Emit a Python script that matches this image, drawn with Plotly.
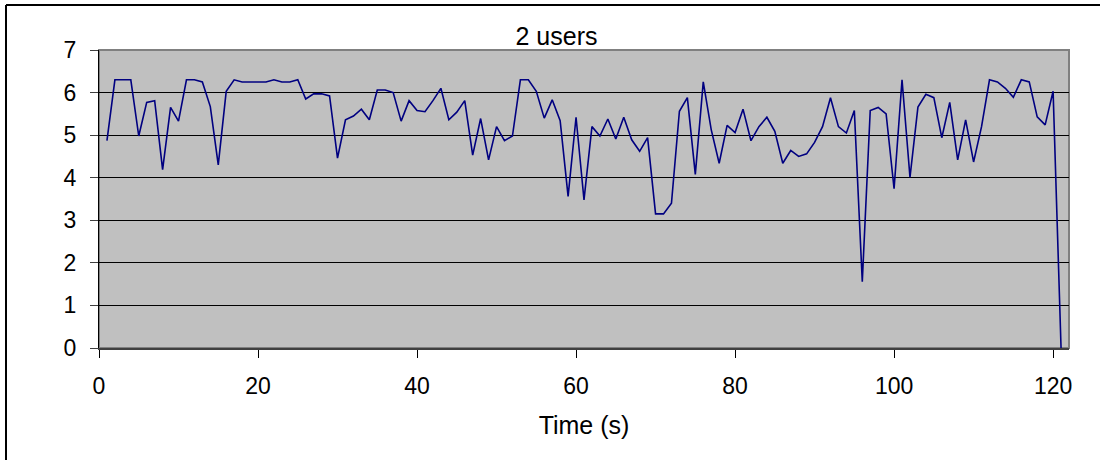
import plotly.graph_objects as go

chart_title = "2 users"
x_title = "Time (s)"

time_s = [
    1, 2, 3, 4, 5, 6, 7, 8, 9, 10,
    11, 12, 13, 14, 15, 16, 17, 18, 19, 20,
    21, 22, 23, 24, 25, 26, 27, 28, 29, 30,
    31, 32, 33, 34, 35, 36, 37, 38, 39, 40,
    41, 42, 43, 44, 45, 46, 47, 48, 49, 50,
    51, 52, 53, 54, 55, 56, 57, 58, 59, 60,
    61, 62, 63, 64, 65, 66, 67, 68, 69, 70,
    71, 72, 73, 74, 75, 76, 77, 78, 79, 80,
    81, 82, 83, 84, 85, 86, 87, 88, 89, 90,
    91, 92, 93, 94, 95, 96, 97, 98, 99, 100,
    101, 102, 103, 104, 105, 106, 107, 108, 109, 110,
    111, 112, 113, 114, 115, 116, 117, 118, 119, 120,
    121,
]

values = [
    4.87, 6.30, 6.30, 6.30, 4.98, 5.77, 5.81, 4.19, 5.65, 5.33,
    6.30, 6.30, 6.25, 5.67, 4.30, 6.03, 6.30, 6.25, 6.25, 6.25,
    6.25, 6.30, 6.25, 6.25, 6.30, 5.85, 5.97, 5.97, 5.92, 4.46,
    5.36, 5.45, 5.61, 5.36, 6.06, 6.06, 6.00, 5.33, 5.81, 5.58,
    5.55, 5.81, 6.10, 5.36, 5.54, 5.81, 4.53, 5.39, 4.42, 5.20,
    4.87, 4.98, 6.30, 6.30, 6.03, 5.40, 5.83, 5.34, 3.56, 5.42,
    3.48, 5.20, 4.98, 5.38, 4.91, 5.42, 4.89, 4.62, 4.94, 3.15,
    3.15, 3.40, 5.56, 5.88, 4.08, 6.25, 5.13, 4.34, 5.23, 5.06,
    5.61, 4.87, 5.20, 5.42, 5.09, 4.34, 4.64, 4.50, 4.56, 4.83,
    5.20, 5.88, 5.20, 5.05, 5.58, 1.56, 5.58, 5.65, 5.50, 3.74,
    6.30, 4.01, 5.66, 5.96, 5.88, 4.94, 5.77, 4.42, 5.36, 4.37,
    5.20, 6.30, 6.25, 6.10, 5.89, 6.30, 6.25, 5.43, 5.24, 6.03,
    0.00,
]

x_ticks = [0, 20, 40, 60, 80, 100, 120]
y_ticks = [0, 1, 2, 3, 4, 5, 6, 7]

W, H = 1102, 461
L, R, T, B = 99, 1069, 50, 348  # plot area in pixels

FONT = "Liberation Sans, Arial, sans-serif"

fig = go.Figure()
fig.add_trace(go.Scatter(
    x=time_s, y=values, mode="lines",
    line=dict(color="#000080", width=1.6),
    showlegend=False, hoverinfo="x+y",
))

def px_x(p):
    return (p - L) / (R - L)

def px_y(p):
    return (B - p) / (B - T)

shapes = [
    # plot-area frame (grey top and right)
    dict(type="rect", xref="paper", yref="paper", x0=0, x1=1, y0=0, y1=1,
         line=dict(color="#808080", width=2), layer="below"),
    # outer chart border: top and left
    dict(type="line", xref="paper", yref="paper",
         x0=px_x(6), x1=px_x(W - 2), y0=px_y(5), y1=px_y(5),
         line=dict(color="#000000", width=2)),
    dict(type="line", xref="paper", yref="paper",
         x0=px_x(6), x1=px_x(6), y0=px_y(5), y1=px_y(H - 1),
         line=dict(color="#000000", width=2)),
]

fig.update_layout(
    width=W, height=H,
    margin=dict(l=L, r=W - R, t=T, b=H - B, pad=0),
    paper_bgcolor="#FFFFFF",
    plot_bgcolor="#C0C0C0",
    font=dict(family=FONT, size=23, color="#000000"),
    title=dict(text=chart_title, x=0.505, xref="container", xanchor="center",
               y=1 - 36 / H, yref="container", yanchor="middle",
               font=dict(family=FONT, size=25, color="#000000")),
    shapes=shapes,
    xaxis=dict(
        range=[0, 122], tickvals=x_ticks, ticktext=[str(v) for v in x_ticks],
        showgrid=False, zeroline=False,
        showline=True, linecolor="#404040", linewidth=2,
        ticks="outside", ticklen=8, tickcolor="#000000", tickwidth=1,
        tickfont=dict(family=FONT, size=23),
        ticklabelstandoff=8,
        title=dict(text=x_title, font=dict(family=FONT, size=25), standoff=19),
        fixedrange=True,
    ),
    yaxis=dict(
        range=[0, 7], tickvals=y_ticks, ticktext=[str(v) for v in y_ticks],
        showgrid=True, gridcolor="#000000", gridwidth=1,
        zeroline=False,
        showline=True, linecolor="#000000", linewidth=1,
        ticks="outside", ticklen=8, tickcolor="#404040", tickwidth=1,
        tickfont=dict(family=FONT, size=23),
        ticklabelstandoff=9,
        fixedrange=True,
    ),
)

fig.write_html(
    "out.html",
    config={"displayModeBar": False},
    post_script="document.body.style.margin='0';document.body.style.overflow='hidden';",
)
